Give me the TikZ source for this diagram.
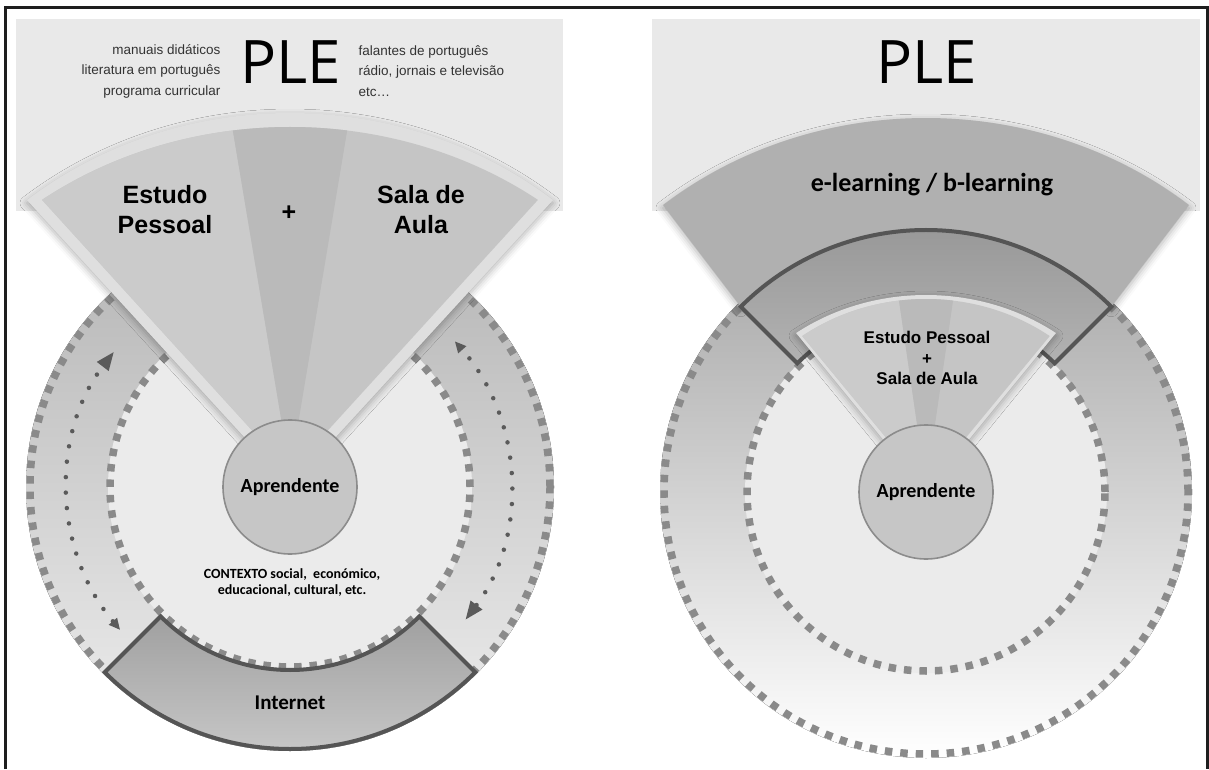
\documentclass[tikz,border=0pt]{standalone}
\usepackage{fontspec}
\setmainfont{Liberation Sans}
\newfontfamily\plefont{Open Sans}
\newfontfamily\calfont{Carlito}
\usetikzlibrary{arrows.meta,shadows.blur}

\definecolor{framegray}{HTML}{1E1E1E}
\definecolor{hdrgray}{HTML}{E9E9E9}
\definecolor{rimgray}{HTML}{DFDFDF}
\definecolor{fanleft}{HTML}{CBCBCB}
\definecolor{fanmid}{HTML}{BABABA}
\definecolor{fanright}{HTML}{C5C5C5}
\definecolor{innergray}{HTML}{EBEBEB}
\definecolor{ringtopL}{HTML}{B4B4B4}
\definecolor{ringbotL}{HTML}{EEEEEE}
\definecolor{ringtopR}{HTML}{A4A4A4}
\definecolor{dashgray}{HTML}{8A8A8A}
\definecolor{arrowgray}{HTML}{5A5A5A}
\definecolor{bandline}{HTML}{555555}
\definecolor{bandtop}{HTML}{A0A0A0}
\definecolor{bandbot}{HTML}{CDCDCD}
\definecolor{segtop}{HTML}{949494}
\definecolor{segbot}{HTML}{B2B2B2}
\definecolor{elearngray}{HTML}{B0B0B0}
\definecolor{learnerfill}{HTML}{C6C6C6}
\definecolor{learnerline}{HTML}{8C8C8C}
\definecolor{textgray}{HTML}{333333}

\tikzset{
  ringdash/.style={draw=dashgray, line width=7.5pt, dash pattern=on 7.5pt off 8pt},
  dotarrow/.style={draw=arrowgray, line width=4.5pt, line cap=round, dash pattern=on 0pt off 15.5pt},
  softshadow/.style={blur shadow={shadow xshift=0pt, shadow yshift=-3pt, shadow blur radius=7pt, shadow opacity=30}},
  bandbox/.style={draw=bandline, line width=4pt, line join=miter, top color=bandtop, bottom color=bandbot},
  learner/.style={circle, draw=learnerline, line width=1.6pt, fill=learnerfill, minimum size=134pt, inner sep=0pt,
    font=\calfont\bfseries\fontsize{20}{24}\selectfont},
  hdrtext/.style={text=textgray, font=\fontsize{13.5}{20.5}\selectfont},
  bigsans/.style={font=\bfseries\fontsize{25}{30}\selectfont, align=center},
  pletext/.style={font=\plefont\fontsize{60}{60}\selectfont},
}

\begin{document}
\begin{tikzpicture}[x=1pt,y=1pt]
	\useasboundingbox (0,0) rectangle (1209,769);

	%header boxes
	\fill[hdrgray] (16,558) rectangle (563,750);
	\fill[hdrgray] (652,558) rectangle (1200,750);

	%left: sources of the learner
	\begin{scope}[shift={(290,282)}]
		%rings
		\fill[top color=ringtopL, bottom color=ringbotL] (0,0) circle (264);
		\fill[innergray] (0,0) circle (182);
		\draw[ringdash] (0,0) circle (260);
		\draw[ringdash] (0,0) circle (180);

		%internet band
		\draw[bandbox] (225:262) arc[start angle=225, end angle=315, radius=262]
			-- (315:183) arc[start angle=315, end angle=225, radius=183] -- cycle;

		%fan
		\fill[rimgray, softshadow] (0,0) -- (129.9:410 and 374)
			arc[start angle=129.9, end angle=50.1, x radius=410, y radius=374] -- cycle;
		\fill[fanright] (0,15) -- (127.1:411 and 360)
			arc[start angle=127.1, end angle=52.9, x radius=411, y radius=360] -- cycle;
		\fill[fanleft] (0,15) -- (127.1:411 and 360)
			arc[start angle=127.1, end angle=98, x radius=411, y radius=360] -- cycle;
		\fill[fanmid] (0,15) -- (98:411 and 360)
			arc[start angle=98, end angle=82, x radius=411, y radius=360] -- cycle;

		%learner
		\node[learner] (learnerL) at (0,0) {Aprendente};

		%dotted arrows
		\draw[dotarrow, {Triangle[length=11pt,width=11pt,line width=0pt]}-{Triangle[length=18pt,width=15pt,line width=0pt]}]
			(220:222) arc[start angle=220, end angle=142.6, radius=222];
		\draw[dotarrow, {Triangle[length=18pt,width=15pt,line width=0pt]}-{Triangle[length=11pt,width=11pt,line width=0pt]}]
			(-37:220) arc[start angle=-37, end angle=41.4, radius=220];

		%labels
		\node[bigsans] (estudo) at (-125,277) {Estudo\\Pessoal};
		\node[bigsans] (plus) at (-1,274) {+};
		\node[bigsans] (sala) at (131,277) {Sala de\\Aula};
		\node[font=\calfont\bfseries\fontsize{14}{16}\selectfont, align=center] (contexto) at (2,-96)
			{CONTEXTO social,\ \ económico,\\educacional, cultural, etc.};
		\node[font=\calfont\bfseries\fontsize{21}{24}\selectfont] (internet) at (0,-216) {Internet};
	\end{scope}

	%left header
	\node[hdrtext, align=right, anchor=east] (srcL) at (224,698) {manuais didáticos\\literatura em português\\programa curricular};
	\node[hdrtext, align=left, anchor=west] (srcR) at (355,698) {falantes de português\\rádio, jornais e televisão\\etc…};
	\node[pletext] (pleL) at (291,707) {PLE};

	%right: learning online
	\begin{scope}[shift={(926,277)}]
		%rings
		\fill[top color=ringtopR, bottom color=white] (0,0) circle (266);
		\fill[innergray] (0,0) circle (181);
		\draw[ringdash] (0,0) circle (262);
		\draw[ringdash] (0,0) circle (179);

		%e-learning band
		\fill[elearngray, softshadow] (129.9:410 and 374)
			arc[start angle=129.9, end angle=50.1, x radius=410, y radius=374]
			-- (45:262) arc[start angle=45, end angle=135, radius=262] -- cycle;
		\draw[bandbox, top color=segtop, bottom color=segbot] (45:262) arc[start angle=45, end angle=135, radius=262]
			-- (135:182) arc[start angle=135, end angle=45, radius=182] -- cycle;

		%small fan
		\fill[rimgray, softshadow] (0,0) -- (126.2:220 and 197)
			arc[start angle=126.2, end angle=53.8, x radius=220, y radius=197] -- cycle;
		\fill[fanright] (0,6) -- (126.1:210 and 193)
			arc[start angle=126.1, end angle=53.9, x radius=210, y radius=193] -- cycle;
		\fill[fanleft] (0,6) -- (126.1:210 and 193)
			arc[start angle=126.1, end angle=97.4, x radius=210, y radius=193] -- cycle;
		\fill[fanmid] (0,6) -- (97.4:210 and 193)
			arc[start angle=97.4, end angle=82.6, x radius=210, y radius=193] -- cycle;

		%learner
		\node[learner] (learnerR) at (0,0) {Aprendente};

		%labels
		\node[font=\bfseries\fontsize{17}{20.5}\selectfont, align=center] (fanR) at (1,134) {Estudo Pessoal\\+\\Sala de Aula};
		\node[font=\calfont\bfseries\fontsize{26}{30}\selectfont] (elearn) at (6,307) {e-learning / b-learning};
	\end{scope}
	\node[pletext] (pleR) at (927,707) {PLE};

	%frame
	\draw[framegray, line width=3pt] (5,0) -- (5,761.5) -- (1207.5,761.5) -- (1207.5,0);
\end{tikzpicture}
\end{document}
